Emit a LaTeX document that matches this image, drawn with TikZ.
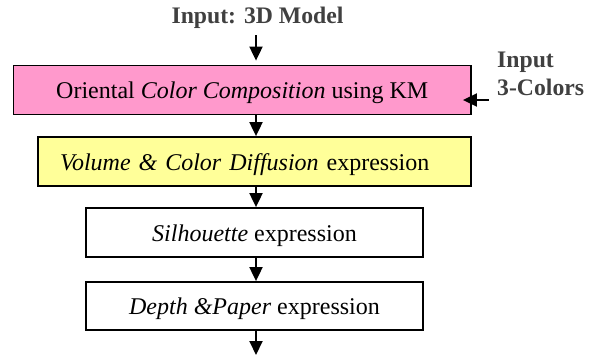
\documentclass[tikz,border=0pt]{standalone}
\usepackage{fontspec}
\setmainfont{Liberation Serif}
\usetikzlibrary{arrows.meta}
\definecolor{boxpink}{HTML}{FF99CC}
\definecolor{boxyellow}{HTML}{FFFF99}
\definecolor{labelgray}{HTML}{404040}
\tikzset{
  stagebox/.style={draw=black, line width=1.8pt, inner xsep=0pt, inner ysep=0pt,
    text height=22pt, text depth=5pt, font=\fontsize{24}{28}\selectfont},
  flowarrow/.style={line width=1.9pt, -{Triangle[width=13pt,length=14pt]}},
  inlabel/.style={text=labelgray, font=\bfseries\fontsize{23.7}{28}\selectfont, inner sep=0pt}
}
\begin{document}
\begin{tikzpicture}[x=1pt,y=-1pt]
\useasboundingbox (0,0) rectangle (596,360);
\coordinate (ax) at (256,0);
\node[inlabel, anchor=base] (in) at (257.5,23) {Input: 3D Model};
\node[stagebox, fill=boxpink, minimum width=457.5pt, minimum height=49pt] (pink) at (242.25,90)
  {Oriental \textit{Color Composition} using KM};
\node[stagebox, fill=boxyellow, minimum height=49pt, inner xsep=22pt, text width=389pt, align=left] (yel) at (254.5,161.5)
  {\textit{Volume \& Color Diffusion} expression};
\node[stagebox, fill=white, minimum width=337pt, minimum height=49pt] (sil) at (254.5,232.5)
  {\textit{Silhouette} expression};
\node[stagebox, fill=white, minimum width=337pt, minimum height=48pt] (dep) at (254.5,306)
  {\textit{Depth \&Paper} expression};
\node[inlabel, anchor=base west, align=left] (col) at (497,95) {Input\\3-Colors};
\coordinate (out) at (256,355);
\draw[flowarrow] (ax |- 0,35) -- ([yshift=4pt]pink.north -| ax);
\draw[flowarrow] (pink.south -| ax) -- (yel.north -| ax);
\draw[flowarrow] (yel.south -| ax) -- (sil.north -| ax);
\draw[flowarrow] (sil.south -| ax) -- (dep.north -| ax);
\draw[flowarrow] (dep.south -| ax) -- (out);
\draw[flowarrow] ([xshift=17pt,yshift=-10pt]pink.east) -- ([xshift=-9pt,yshift=-10pt]pink.east);
\end{tikzpicture}
\end{document}
